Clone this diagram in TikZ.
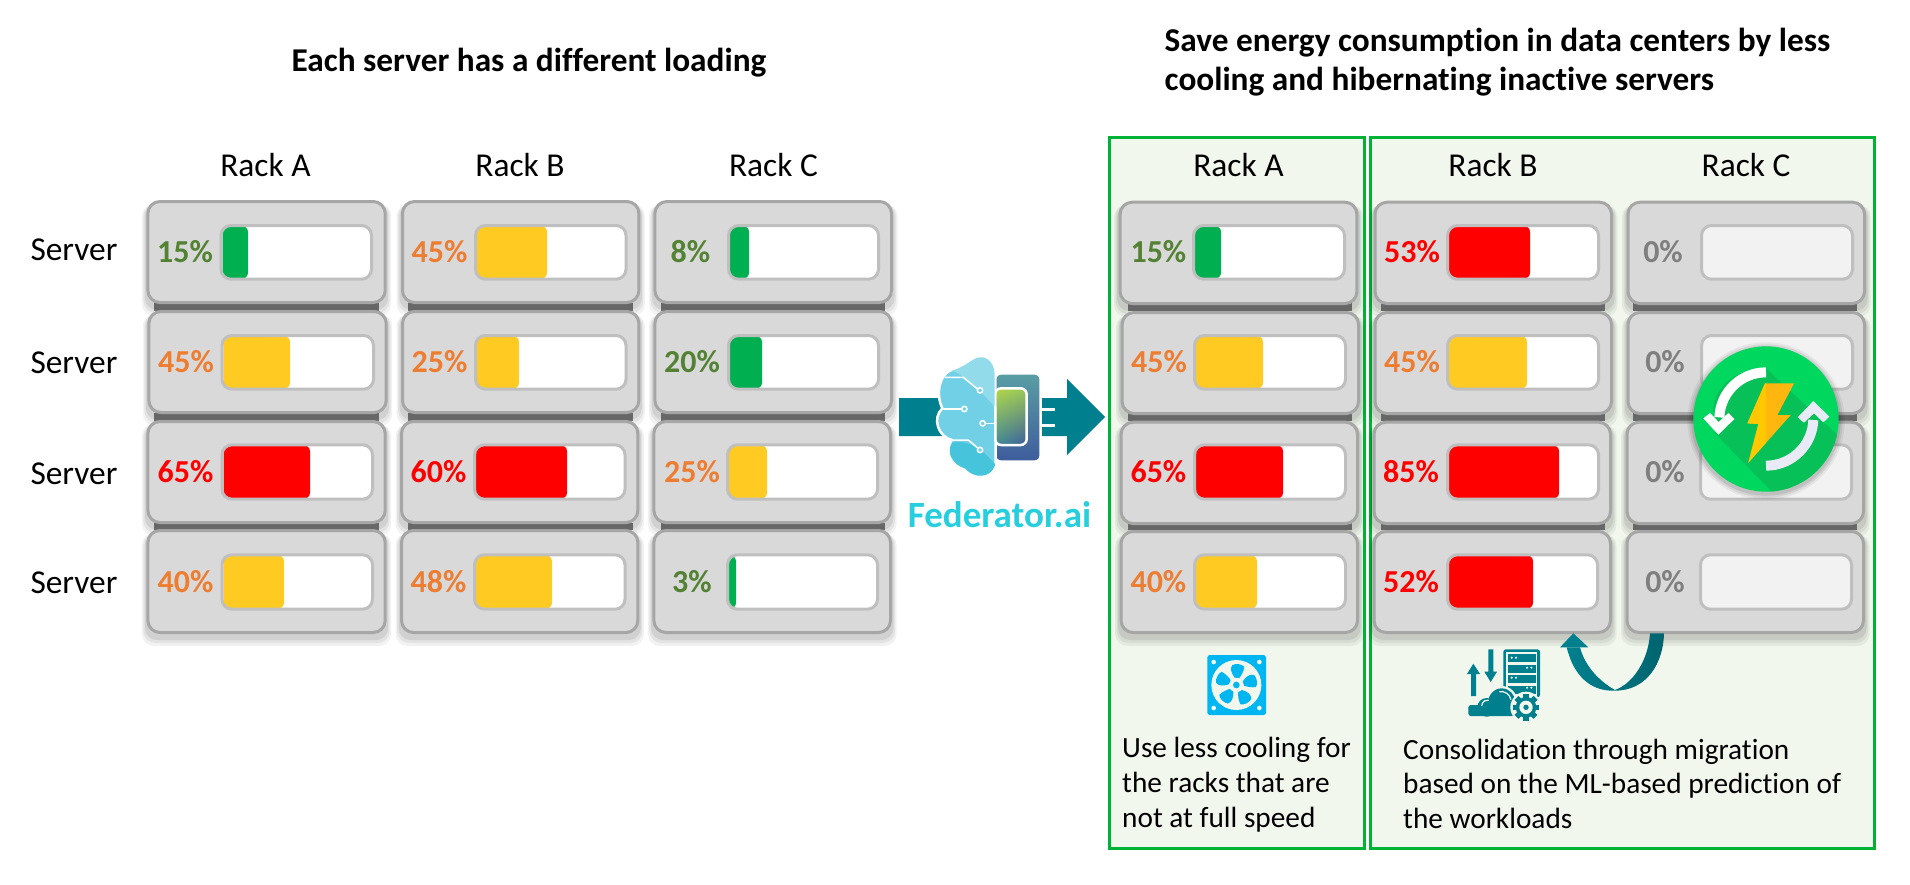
\documentclass[tikz,border=0pt]{standalone}
\usepackage{fontspec}
\setmainfont{Carlito}[Ligatures=NoCommon]
\usetikzlibrary{calc,shadings}
\definecolor{cardfill}{HTML}{D9D9D9}
\definecolor{cardline}{HTML}{A6A6A6}
\definecolor{barline}{HTML}{BFBFBF}
\definecolor{joint}{HTML}{7F7F7F}
\definecolor{lowbar}{HTML}{00B050}
\definecolor{midbar}{HTML}{FFCA22}
\definecolor{highbar}{HTML}{FF0000}
\definecolor{lowtxt}{HTML}{548235}
\definecolor{midtxt}{HTML}{ED7D31}
\definecolor{hightxt}{HTML}{FF0000}
\definecolor{offtxt}{HTML}{7F7F7F}
\definecolor{offbar}{HTML}{F2F2F2}
\definecolor{panelfill}{HTML}{F2F7EE}
\definecolor{panelline}{HTML}{00B336}
\definecolor{teal}{HTML}{00808E}
\definecolor{tealdark}{HTML}{00646E}
\definecolor{fedcyan}{HTML}{27CEDE}
\definecolor{fanblue}{HTML}{00B6F1}
\definecolor{circA}{HTML}{00D75F}
\definecolor{circB}{HTML}{08C058}
\definecolor{brainA}{HTML}{72D0E6}
\definecolor{brainB}{HTML}{91DBEA}
\definecolor{brainC}{HTML}{46C4DC}
\definecolor{chipT}{HTML}{5A9EA4}
\definecolor{chipB}{HTML}{3E5C9C}
\definecolor{chipG}{HTML}{B5D648}
\definecolor{chipH}{HTML}{96C85A}
\definecolor{chipL}{HTML}{3F8C95}
\definecolor{ringB}{HTML}{E8EAF6}
\definecolor{boltR}{HTML}{FFB60F}
\definecolor{boltL}{HTML}{FFC800}
\tikzset{
  cardbox/.style={draw=cardline,line width=3pt,fill=cardfill,rounded corners=12pt},
  jointbar/.style={fill=joint},
  barbox/.style={draw=barline,line width=3pt,rounded corners=10pt},
  pct/.style={font=\fontsize{32}{36}\selectfont\bfseries,inner sep=0pt,anchor=center},
  rack/.style={font=\fontsize{33.4}{38}\selectfont,inner sep=0pt,anchor=center},
  srvlabel/.style={font=\fontsize{33.4}{38}\selectfont,inner sep=0pt,anchor=center},
  head/.style={font=\fontsize{33.3}{38}\selectfont\bfseries,inner sep=0pt},
  note/.style={font=\fontsize{29.3}{35}\selectfont,inner sep=0pt,anchor=base west},
  panel/.style={draw=panelline,line width=3pt,fill=panelfill},
}
\newcommand{\shadowcard}{%
  \foreach \d/\o in {9/0.05,6/0.06,3/0.08}{
    \fill[black,opacity=\o,rounded corners=12pt]
      (\xa-\d/2,\ya+4) rectangle (\xb+\d/2,\yb+3+\d);
  }}
\newcommand{\drawcard}{%
  \shadowcard
  \draw[cardbox] (\xa+1.5,\ya+1.5) rectangle (\xb-1.5,\yb-1.5);
  \fill[\bgc,rounded corners=9pt] (\ba+1.5,\bya+1.5) rectangle (\bb-1.5,\byb-1.5);
  \fill[\fc,rounded corners=6pt] (\ba+3,\bya+2) rectangle (\fe,\byb-2);
  \draw[barbox] (\ba+1.5,\bya+1.5) rectangle (\bb-1.5,\byb-1.5);
  \node[pct,text=\tc] (\nm) at (\tx,\tym) {\p\%};
}
\begin{document}
\begin{tikzpicture}[x=1pt,y=-1pt]
\useasboundingbox (0,0) rectangle (1910,884);
\fill[white] (0,0) rectangle (1910,884);

% panels
\draw[panel] (1109.5,137.5) rectangle (1364,848.3);
\draw[panel] (1370,137.5) rectangle (1874.5,848.3);

% headings
\node[head,anchor=center] (hleft) at (529,62.5) {Each server has a different loading};
\node[head,anchor=base west] (hr1) at (1164.5,51) {Save energy consumption in data centers by less};
\node[head,anchor=base west] (hr2) at (1164.5,90) {cooling and hibernating inactive servers};

% rack labels
\node[rack] (la) at (265.5,165) {Rack A};
\node[rack] (lb) at (520,165) {Rack B};
\node[rack] (lc) at (773.5,165) {Rack C};
\node[rack] (ra) at (1238.5,165) {Rack A};
\node[rack] (rb) at (1493,165) {Rack B};
\node[rack] (rc) at (1746,165) {Rack C};
\node[srvlabel] (s1) at (74,250) {Server};
\node[srvlabel] (s2) at (74,363) {Server};
\node[srvlabel] (s3) at (74,474) {Server};
\node[srvlabel] (s4) at (74,583) {Server};

% joints between the cards
\foreach \ja/\jb in {154/379,408/632.5,661/885,1127.7/1352,1380.6/1605,1633/1857}{
  \fill[jointbar] (\ja,303) rectangle (\jb,311);
  \fill[jointbar] (\ja,413) rectangle (\jb,421);
  \fill[jointbar] (\ja,523) rectangle (\jb,530);
}

% active cards
\def\bgc{white}
\foreach \nm/\xa/\xb/\ya/\yb/\bya/\byb/\tym/\ba/\bb/\fe/\fc/\tc/\tx/\p in {
 a1/146.4/386.7/200/304/224/280.7/252/219.5/373/248/lowbar/lowtxt/185/15,
 a2/147.4/387.7/310/414/334/390.7/362/220.5/375/290/midbar/midtxt/186/45,
 a3/146.4/386.7/420/524/443.3/500.7/472/220.5/374/310/highbar/hightxt/185.5/65,
 a4/146.4/386.7/529/634/553.3/610.7/582/220.5/374/284/midbar/midtxt/185.5/40,
 b1/401/640.4/200/304/224/280.7/252/474/627.5/547/midbar/midtxt/439.5/45,
 b2/401/640.4/310/414/334/390.7/362/474/627.5/519/midbar/midtxt/439.5/25,
 b3/400/639.4/420/524/443.3/500.7/472/473/626.5/567/highbar/hightxt/438.5/60,
 b4/400/639.4/529/634/553.3/610.7/582/473/626.5/552/midbar/midtxt/438.5/48,
 c1/653.4/893/200/304/224/280.7/252/727/880/749/lowbar/lowtxt/690.5/8,
 c2/653.4/893/310/414/334/390.7/362/727/880/762/lowbar/lowtxt/692/20,
 c3/652.4/892/420/524/443.3/500.7/472/726/879/767/midbar/midtxt/692/25,
 c4/652.4/892/529/634/553.3/610.7/582/726/879/736/lowbar/lowtxt/692/3,
 d1/1118.6/1358.4/200.7/305/224/280.7/252/1192/1346/1221/lowbar/lowtxt/1158.4/15,
 d2/1120.6/1360/311/415/334/390.7/362/1193/1347/1263/midbar/midtxt/1159/45,
 d3/1119.6/1359/420.7/525/443.3/500.7/472/1193/1347/1283/highbar/hightxt/1158.4/65,
 d4/1119.6/1359/530/634/553.3/610.7/582/1193/1347/1257/midbar/midtxt/1158.4/40,
 e1/1373.5/1613/200.7/305/224/280.7/252/1446/1600/1530/highbar/hightxt/1412/53,
 e2/1373.5/1613/311/415/334/390.7/362/1446/1600/1527/midbar/midtxt/1412/45,
 e3/1372.5/1612/420.7/525/443.3/500.7/472/1446/1600/1559/highbar/hightxt/1411/85,
 e4/1372.5/1612/530/634/553.3/610.7/582/1446/1599/1533/highbar/hightxt/1411/52%
}{\drawcard}

% inactive cards
\def\bgc{offbar}
\foreach \nm/\xa/\xb/\ya/\yb/\bya/\byb/\tym/\ba/\bb/\fe/\fc/\tc/\tx/\p in {
 f1/1626.5/1866/200.7/305/224/280.7/252/1700/1854/1708/offbar/offtxt/1663/0,
 f2/1626.5/1866/311/415/334/390.7/362/1700/1854/1708/offbar/offtxt/1665/0,
 f3/1625.5/1865/420.7/525/443.3/500.7/472/1699/1853/1708/offbar/offtxt/1665/0,
 f4/1625.5/1865/530/634/553.3/610.7/582/1699/1853/1708/offbar/offtxt/1665/0%
}{\drawcard}

% big arrow
\fill[teal] (899,398) -- (1067,398) -- (1067,379) -- (1105,417) -- (1067,455) -- (1067,436) -- (899,436) -- cycle;

% Federator.ai icon (coordinates of a 3x crop)
\begin{scope}[shift={(880,340)},x=0.33333pt,y=-0.33333pt]
  % chip pins
  \foreach \px in {378,422}{
    \draw[white,line width=3pt] (\px,60) -- (\px,110);
    \draw[white,line width=3pt] (\px,350) -- (\px,400);
  }
  \foreach \py in {157,207,255,302}{
    \draw[white,line width=3pt] (470,\py) -- (525,\py);
  }
  % chip
  \shade[top color=chipT,bottom color=chipB,draw=white,line width=2.5pt,rounded corners=6pt]
     (345,100) -- (482,100) -- (482,365) -- (345,365) -- cycle;
  \shade[lower left=chipL,upper left=chipG,lower right=chipB,upper right=chipH,draw=white,line width=2.5pt,rounded corners=6pt]
     (345,145) -- (440,145) -- (440,315) -- (345,315) -- cycle;
  % brain
  \fill[black,opacity=0.10] (348,108) .. controls (348,70) and (325,48) .. (300,52)
     .. controls (275,55) and (265,78) .. (215,92)
     .. controls (185,105) and (170,160) .. (190,205)
     .. controls (160,235) and (180,290) .. (218,303)
     .. controls (195,340) and (225,380) .. (260,390)
     .. controls (285,420) and (340,420) .. (350,380) -- cycle;
  \path[fill=brainA,draw=white,line width=2.5pt] (345,105) .. controls (345,70) and (325,48) .. (300,50)
     .. controls (275,52) and (265,75) .. (215,90)
     .. controls (180,100) and (165,160) .. (187,205)
     .. controls (155,235) and (175,290) .. (215,300)
     .. controls (190,340) and (220,378) .. (255,388)
     .. controls (280,418) and (335,418) .. (347,378) -- cycle;
  \fill[brainB] (344,107) .. controls (344,72) and (325,50) .. (300,52)
     .. controls (275,54) and (265,77) .. (216,92) .. controls (240,100) and (280,130) .. (344,200) -- cycle;
  \fill[brainC] (345,376) .. controls (333,416) and (280,416) .. (256,386)
     .. controls (222,376) and (195,340) .. (217,308) .. controls (260,300) and (300,320) .. (345,372) -- cycle;
  \draw[white,line width=1.5pt] (195,112) -- (250,112) -- (292,147);
  \draw[white,line width=1.5pt] (187,207) -- (245,207);
  \draw[white,line width=1.5pt] (345,250) -- (316,250);
  \draw[white,line width=1.5pt] (215,300) -- (265,300) -- (292,323);
  \foreach \cx/\cy in {300/151,253/207,308/250,300/330}{
    \draw[white,line width=1.5pt,fill=brainA] (\cx,\cy) circle[radius=8];
  }
\end{scope}
\node[font=\fontsize{37}{44}\selectfont\bfseries,text=fedcyan,inner sep=0pt] (fed) at (999.5,515) {Federator.ai};

% green circle
\begin{scope}[shift={(1620,320)},x=0.33333pt,y=-0.33333pt]
  \foreach \rr/\o in {236/0.05,230/0.07,224/0.09}{
    \fill[black,opacity=\o] (438,303) circle[radius=\rr];
  }
  \fill[circA] (438,297) circle[radius=218];
  \begin{scope}
    \clip (438,297) circle[radius=218];
    \fill[circB] (438,145) -- (700,390) -- (700,600) -- (480,540) -- (285,340) -- (280,260)
       .. controls (290,190) and (360,145) .. (438,145) -- cycle;
  \end{scope}
  % ring arrows
  \draw[white,line width=10pt] (438,157) arc[start angle=-90,end angle=-178,radius=140];
  \fill[white] (250,295) -- (270,279) -- (296,306) -- (325,279) -- (343,297) -- (295,344) -- cycle;
  \draw[ringB,line width=10pt] (438,437) arc[start angle=90,end angle=2,radius=142];
  \fill[ringB] (533,292) -- (580,243) -- (628,290) -- (610,307) -- (582,280) -- (552,308) -- cycle;
  % bolt
  \fill[boltR] (435,190) -- (522,190) -- (472,285) -- (512,285) -- (385,428) -- (415,312) -- (382,310) -- cycle;
  \begin{scope}
    \clip (300,150) rectangle (438,450);
    \fill[boltL] (435,190) -- (522,190) -- (472,285) -- (512,285) -- (385,428) -- (415,312) -- (382,310) -- cycle;
  \end{scope}
\end{scope}

% fan, consolidation icon, curved arrow (coordinates of a 3x crop)
\begin{scope}[shift={(1180,620)},x=0.33333pt,y=-0.33333pt]
  \fill[fanblue,rounded corners=2.5pt] (82,105) rectangle (258,285);
  \foreach \cx/\cy in {101/126,238/126,101/264,238/264}{
    \fill[panelfill] (\cx,\cy) circle[radius=7];
  }
  \fill[panelfill] (169,195) circle[radius=75];
  \foreach \a in {0,72,144,216,288}{
    \begin{scope}[shift={(169,195)},rotate=\a]
      \fill[fanblue] (-5,-22) .. controls (-15,-35) and (-20,-50) .. (-12,-60)
        .. controls (0,-66) and (18,-62) .. (24,-54)
        .. controls (22,-40) and (14,-28) .. (9,-21) -- cycle;
    \end{scope}
  }
  \fill[panelfill] (169,195) circle[radius=20];
  \fill[fanblue] (169,195) circle[radius=10];

  % server
  \fill[teal,rounded corners=2.5pt] (970,88) rectangle (1080,232);
  \fill[panelfill] (978,96) rectangle (1072,232);
  \foreach \ry in {101,134,165,197}{
    \fill[teal] (984,\ry) rectangle (1067,\ry+25);
  }
  \foreach \dx/\dy in {995/113,1008/113,1041/143,1054/143,995/173,1008/173,1041/203,1054/203}{
    \fill[panelfill] (\dx,\dy) circle[radius=3.5];
  }
  % up and down arrows
  \fill[teal] (925,88) -- (940,88) -- (940,155) -- (951,155) -- (932,186) -- (913,155) -- (925,155) -- cycle;
  \fill[teal] (873,228) -- (888,228) -- (888,162) -- (900,162) -- (880,131) -- (861,162) -- (873,162) -- cycle;
  % cloud
  \fill[panelfill] (965,245) circle[radius=47];
  \fill[teal] (965,245) circle[radius=40];
  \fill[teal] (920,262) circle[radius=28];
  \fill[teal,rounded corners=2.5pt] (865,255) rectangle (1005,288);
  \draw[panelfill,line width=1.2pt] (905,258) arc[start angle=180,end angle=280,radius=18];
  \draw[panelfill,line width=1.2pt] (958,215) arc[start angle=-100,end angle=-10,radius=30];
  % gear
  \fill[panelfill] (1038,262) circle[radius=47];
  \foreach \a in {0,45,...,315}{
    \begin{scope}[shift={(1038,262)},rotate=\a]
      \fill[teal] (-8,-40) rectangle (8,40);
    \end{scope}
  }
  \fill[teal] (1038,262) circle[radius=31];
  \fill[panelfill] (1038,262) circle[radius=20];
  \fill[teal] (1038,262) circle[radius=8];

  % curved arrow
  \shade[left color=teal,right color=tealdark]
    (1160,82) .. controls (1180,165) and (1230,215) .. (1305,212)
    .. controls (1400,212) and (1450,130) .. (1452,40)
    -- (1410,40)
    .. controls (1405,120) and (1360,190) .. (1305,210)
    .. controls (1260,185) and (1215,140) .. (1200,82) -- cycle;
  \fill[teal] (1180,40) -- (1225,82) -- (1140,82) -- cycle;
\end{scope}

% notes
\node[note] (n1) at (1122,757.7) {Use less cooling for};
\node[note] (n2) at (1122,792.7) {the racks that are};
\node[note] (n3) at (1122,827.7) {not at full speed};
\node[note] (m1) at (1403,759) {Consolidation through migration};
\node[note] (m2) at (1403,793.7) {based on the ML-based prediction of};
\node[note] (m3) at (1403,828) {the workloads};
\end{tikzpicture}
\end{document}
